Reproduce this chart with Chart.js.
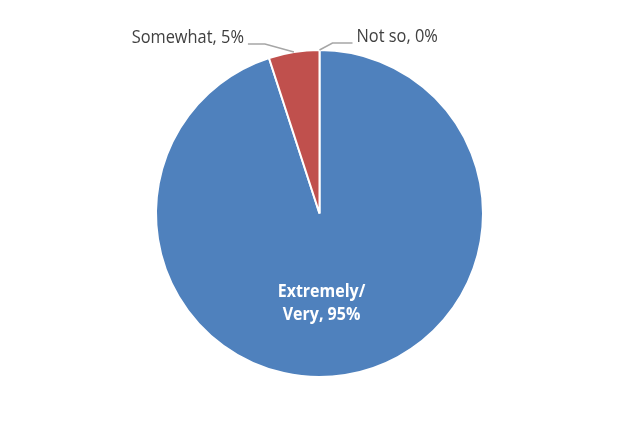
<!DOCTYPE html>
<html>
<head>
<meta charset="utf-8">
<script src="https://cdn.jsdelivr.net/npm/chart.js@4/dist/chart.umd.min.js"></script>
<style>
  html, body { margin: 0; padding: 0; background: #fff; }
  #wrap { width: 639px; height: 429px; }
</style>
</head>
<body>
<div id="wrap"><canvas id="pieChart" width="639" height="429"></canvas></div>
<script>
// ── data ──
const categories = ['Extremely/\nVery', 'Somewhat', 'Not so'];
const shares = [95, 5, 0];
const sliceColors = ['#4F81BD', '#C0504D', '#9BBB59'];

// label placement per slice: inside label, or leader line out (elbow offset, horizontal run)
const labelStyle = [
  { inside: true, dy: 90 },
  { elbowDx: -29, elbowDy: -8, run: -17 },
  { elbowDx: 13, elbowDy: -7, run: 20 }
];

// Calibri-like look: taller glyphs, squeezed a bit horizontally
function drawText(ctx, txt, x, y, align, sx) {
  ctx.save();
  ctx.translate(x, y);
  ctx.scale(sx, 1);
  ctx.textAlign = align;
  ctx.fillText(txt, 0, 0);
  ctx.restore();
}

const pieLabels = {
  id: 'pieLabels',
  afterDatasetsDraw(chart) {
    const ctx = chart.ctx;
    const meta = chart.getDatasetMeta(0);
    meta.data.forEach((arc, i) => {
      const { x, y, startAngle, endAngle, outerRadius } = arc.getProps(['x', 'y', 'startAngle', 'endAngle', 'outerRadius'], true);
      const mid = (startAngle + endAngle) / 2;
      const st = labelStyle[i];
      const lines = (categories[i] + ', ' + shares[i] + '%').split('\n');
      ctx.save();
      ctx.textBaseline = 'middle';
      if (st.inside) {
        ctx.fillStyle = '#ffffff';
        ctx.font = 'bold 17px "Open Sans", sans-serif';
        lines.forEach((ln, k) => drawText(ctx, ln, x + 2, y + st.dy - 11 + k * 23, 'center', 0.94));
      } else {
        const ax = x + Math.cos(mid) * outerRadius;
        const ay = y + Math.sin(mid) * outerRadius;
        const ex = ax + st.elbowDx, ey = ay + st.elbowDy;
        const hx = ex + st.run;
        ctx.strokeStyle = '#A6A6A6';
        ctx.lineWidth = 1.5;
        ctx.beginPath();
        ctx.moveTo(ax, ay);
        ctx.lineTo(ex, ey);
        ctx.lineTo(hx, ey);
        ctx.stroke();
        ctx.fillStyle = '#404040';
        ctx.font = '18px "Open Sans", sans-serif';
        drawText(ctx, lines[0], hx + (st.run < 0 ? -4 : 4), ey - 6, st.run < 0 ? 'right' : 'left', 0.91);
      }
      ctx.restore();
    });
  }
};

new Chart(document.getElementById('pieChart'), {
  type: 'pie',
  data: {
    labels: categories,
    datasets: [{
      data: shares,
      backgroundColor: sliceColors,
      borderColor: '#ffffff',
      borderWidth: 2
    }]
  },
  options: {
    responsive: false,
    animation: false,
    layout: { padding: { top: 49, bottom: 51, left: 0, right: 0 } },
    plugins: { legend: { display: false }, tooltip: { enabled: false } }
  },
  plugins: [pieLabels]
});
</script>
</body>
</html>
